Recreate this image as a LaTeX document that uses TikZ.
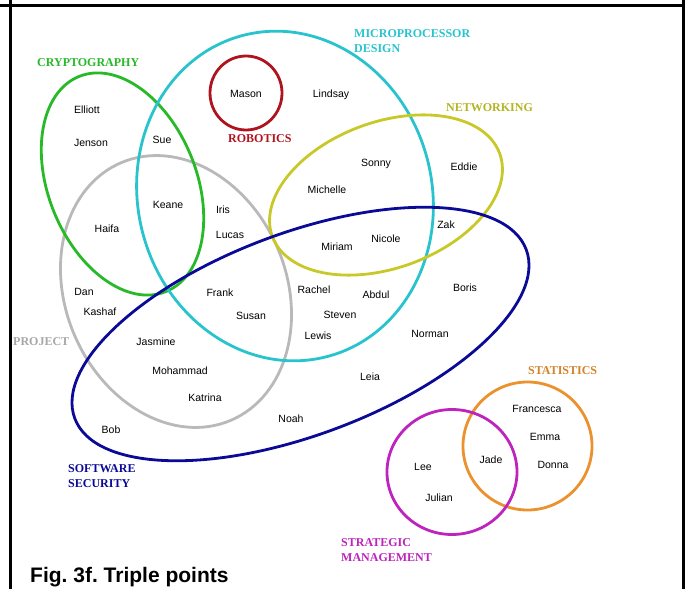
\documentclass[tikz,border=0pt]{standalone}
\usepackage{fontspec}
\setmainfont{Liberation Serif}
\setsansfont{Liberation Sans}
\frenchspacing
\definecolor{cryptogreen}{RGB}{40,185,40}
\definecolor{microcyan}{RGB}{40,195,205}
\definecolor{robotred}{RGB}{175,20,30}
\definecolor{networkolive}{RGB}{200,200,40}
\definecolor{projectgray}{RGB}{185,185,185}
\definecolor{securityblue}{RGB}{10,10,150}
\definecolor{statsorange}{RGB}{235,145,45}
\definecolor{strategypurple}{RGB}{190,35,190}

\begin{document}
\begin{tikzpicture}[x=1pt, y=-1pt,
    ring/.style={line width=2.8pt},
    person/.style={font=\sffamily\fontsize{10.5}{12}\selectfont, text height=7.5pt, text depth=0pt, inner sep=0pt},
    setname/.style={font=\bfseries\fontsize{12}{15}\selectfont, anchor=north west, inner sep=0pt, align=left}]
    \useasboundingbox (0,0) rectangle (691,589);
    \draw[line width=3pt] (0,5) -- (683,5);
    \draw[line width=3pt] (10,0) -- (10,589);
    \draw[line width=3pt] (683,0) -- (683,589);

    \draw[ring, projectgray, rotate around={23:(176,291.5)}] (176,291.5) ellipse [x radius=110.5, y radius=140];
    \draw[ring, cryptogreen, rotate around={22:(122.5,184)}] (122.5,184) ellipse [x radius=74, y radius=116];
    \draw[ring, microcyan, rotate around={15:(285,196)}] (285,196) ellipse [x radius=147, y radius=166];
    \draw[ring, robotred] (246,93) ellipse [x radius=36, y radius=37];
    \draw[ring, networkolive, rotate around={20:(386,195)}] (386,195) ellipse [x radius=121, y radius=73];
    \draw[ring, securityblue, rotate around={20.5:(300.5,334)}] (300.5,334) ellipse [x radius=241, y radius=101];
    \draw[ring, statsorange] (527.5,446) ellipse [x radius=64.5, y radius=64];
    \draw[ring, strategypurple] (452,472) ellipse [x radius=65, y radius=62.5];

    \node[setname, microcyan] (micro) at (354,29) {MICROPROCESSOR\\DESIGN};
    \node[setname, cryptogreen] (crypto) at (37,58) {CRYPTOGRAPHY};
    \node[setname, robotred] (robot) at (228,134) {ROBOTICS};
    \node[setname, networkolive!90!black] (network) at (446,103) {NETWORKING};
    \node[setname, projectgray!90!black] (project) at (13,337) {PROJECT};
    \node[setname, securityblue] (security) at (68,464) {SOFTWARE\\SECURITY};
    \node[setname, statsorange!90!black] (stats) at (528,366) {STATISTICS};
    \node[setname, strategypurple] (strategy) at (341,538) {STRATEGIC\\MANAGEMENT};

    \foreach \who/\x/\y in {Mason/246/94, Lindsay/331/94, Elliott/87/110, Jenson/91/143,
        Sue/162/140, Sonny/376/163, Eddie/464/167, Michelle/327/190, Keane/168/205,
        Iris/223/210, Haifa/107/229, Lucas/230/235, Zak/446/225, Nicole/386/239,
        Miriam/337/247, Dan/84/292, Frank/220/293, Rachel/314/290, Abdul/376/295,
        Boris/465/288, Kashaf/100/312, Susan/251/316, Steven/340/315, Lewis/318/336,
        Norman/430/334, Jasmine/156/342, Mohammad/180/371, Leia/370/377,
        Katrina/205/398, Noah/291/419, Bob/111/430, Francesca/537/409, Emma/545/437,
        Jade/491/460, Lee/423/467, Donna/553/465, Julian/439/498}
        \node[person] (\who) at (\x,\y) {\who};

    \node[anchor=base west, inner sep=0pt, font=\sffamily\bfseries\fontsize{21}{25}\selectfont] (caption) at (30,582) {Fig. 3f. Triple points};
\end{tikzpicture}
\end{document}
